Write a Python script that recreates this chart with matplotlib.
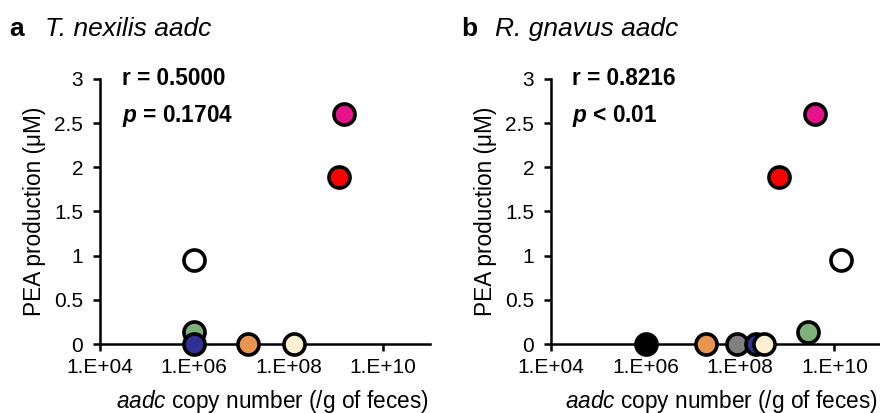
import matplotlib
matplotlib.use("Agg")
import matplotlib.pyplot as plt

plt.rcParams['font.family'] = ['Liberation Sans', 'DejaVu Sans']
plt.rcParams['mathtext.fontset'] = 'custom'
plt.rcParams['mathtext.rm'] = 'Liberation Sans'
plt.rcParams['mathtext.it'] = 'Liberation Sans:italic'
plt.rcParams['mathtext.bf'] = 'Liberation Sans:bold'
plt.rcParams['mathtext.bfit'] = 'Liberation Sans:italic:bold'

# Panel a: T. nexilis aadc
a_x = [1.0e6, 1.0e6, 1.0e6, 1.35e7, 1.3e8, 1.2e9, 1.5e9]
a_y = [0.95, 0.14, 0.0, 0.0, 0.0, 1.895, 2.60]
a_colors = ['#FFFFFF', '#80B07A', '#2E3192', '#E8954F', '#FDF0D2', '#FF0000', '#E6128C']

# Panel b: R. gnavus aadc
b_x = [1.05e6, 1.95e7, 8.5e7, 2.2e8, 3.3e8, 6.6e8, 3.8e9, 2.75e9, 1.4e10]
b_y = [0.0, 0.0, 0.0, 0.0, 0.0, 1.895, 2.60, 0.14, 0.95]
b_colors = ['#000000', '#E8954F', '#808080', '#2E3192', '#FDF0D2', '#FF0000', '#E6128C', '#80B07A', '#FFFFFF']

xticks = [1e4, 1e6, 1e8, 1e10]
xticklabels = ['1.E+04', '1.E+06', '1.E+08', '1.E+10']
yticks = [0, 0.5, 1, 1.5, 2, 2.5, 3]
yticklabels = ['0', '0.5', '1', '1.5', '2', '2.5', '3']

fig = plt.figure(figsize=(8.8, 4.13), dpi=100)

panels = [
    dict(rect=[0.1136, 0.167, 0.375, 0.642], x=a_x, y=a_y, c=a_colors,
         letter='a', title='T. nexilis aadc', lx=0.011, tx=0.051,
         r='r = 0.5000', p=r'$\mathbfit{p}$ = 0.1704', tx0=0.067,
         xl=0.994, yl=-0.197),
    dict(rect=[0.626, 0.167, 0.376, 0.642], x=b_x, y=b_y, c=b_colors,
         letter='b', title='R. gnavus aadc', lx=0.524, tx=0.5625,
         r='r = 0.8216', p=r'$\mathbfit{p}$ < 0.01', tx0=0.063,
         xl=0.988, yl=-0.199),
]

TICKFS = 15

for pn in panels:
    ax = fig.add_axes(pn['rect'])
    for xi, yi, ci in zip(pn['x'], pn['y'], pn['c']):
        ax.scatter([xi], [yi], s=230, c=ci, edgecolors='black', linewidths=2.6,
                   zorder=3, clip_on=False)
    ax.set_xscale('log')
    ax.set_xlim(1e4, 1e11)
    ax.set_ylim(0, 3)
    ax.set_xticks(xticks)
    ax.set_xticklabels(xticklabels, fontsize=TICKFS)
    ax.minorticks_off()
    ax.set_yticks(yticks)
    ax.set_yticklabels(yticklabels, fontsize=TICKFS)
    for s in ['top', 'right']:
        ax.spines[s].set_visible(False)
    for s in ['left', 'bottom']:
        ax.spines[s].set_linewidth(1.8)
    ax.tick_params(axis='both', direction='out', length=5, width=1.8)
    ax.tick_params(axis='x', pad=5)
    ax.tick_params(axis='y', pad=7)
    ax.set_ylabel('PEA production (μM)', fontsize=16.3, va='center')
    ax.yaxis.set_label_coords(pn['yl'], 0.5)
    ax.set_xlabel(r'$\it{aadc}$ copy number (/g of feces)', fontsize=16.3,
                  ha='right', va='center')
    ax.xaxis.set_label_coords(pn['xl'], -0.215)
    ax.text(pn['tx0'], 1.0, pn['r'], transform=ax.transAxes, fontsize=16.3,
            fontweight='bold', va='center', ha='left')
    ax.text(pn['tx0'], 0.86, pn['p'], transform=ax.transAxes, fontsize=16.3,
            fontweight='bold', va='center', ha='left')
    fig.text(pn['lx'], 0.93, pn['letter'], fontsize=19, fontweight='bold',
             va='center', ha='left')
    fig.text(pn['tx'], 0.93, pn['title'], fontsize=19, style='italic',
             va='center', ha='left')

fig.savefig('out.png', dpi=100)
